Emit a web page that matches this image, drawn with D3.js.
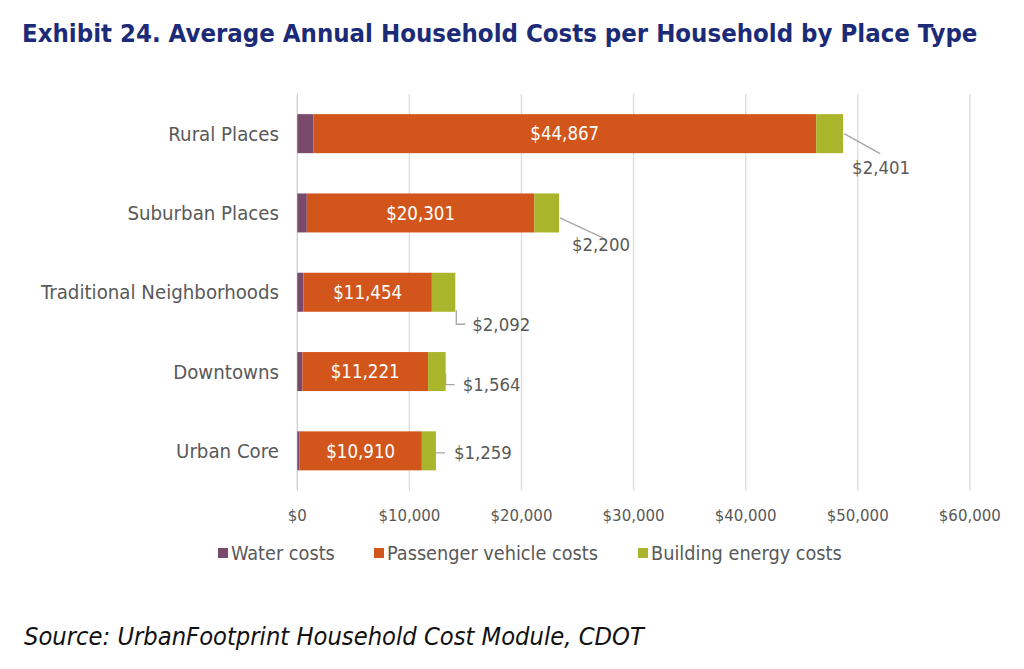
<!DOCTYPE html>
<html><head><meta charset="utf-8">
<script src="https://cdn.jsdelivr.net/npm/d3@7"></script>
<style>body{margin:0;background:#fff}svg{display:block}text{font-family:"DejaVu Sans Condensed","DejaVu Sans",sans-serif}</style>
</head><body>
<svg id="c" width="1024" height="669"></svg>
<script>
const categories = ["Rural Places","Suburban Places","Traditional Neighborhoods","Downtowns","Urban Core"];
const waterCosts = [1430, 850, 550, 450, 200];
const vehicleCosts = [44867, 20301, 11454, 11221, 10910];
const energyCosts = [2401, 2200, 2092, 1564, 1259];
const seriesNames = ["Water costs","Passenger vehicle costs","Building energy costs"];
const xTicks = [0,10000,20000,30000,40000,50000,60000];
const titleText = "Exhibit 24. Average Annual Household Costs per Household by Place Type";
const sourceText = "Source: UrbanFootprint Household Cost Module, CDOT";

// layout / style (not data)
const colors = ["#7a4a6c","#d2561b","#a9b52a"];
const calloutLayout = [
  {pts:[[1,0],[37,20]], lab:[9,34]},
  {pts:[[1,5],[44,25]], lab:[13,31]},
  {pts:[[1,18],[1,32],[10,32]], lab:[17,32]},
  {pts:[[0,2],[0,13],[9,13]], lab:[17,13]},
  {pts:[[0,2],[9,2]], lab:[18,2]}
];

const svg = d3.select("#c");
const fmt = v => "$" + d3.format(",")(v);

function fit(sel, w){
  const n = sel.node();
  let fs = parseFloat(sel.attr("font-size"));
  const l = n.getComputedTextLength();
  if (l > 0) sel.attr("font-size", (fs * w / l).toFixed(2));
  return sel;
}

const x = d3.scaleLinear().domain([0,60000]).range([297.3, 969.8]);
const y = d3.scaleBand().domain(categories).range([94, 490.5]).paddingInner(0.508).paddingOuter(0.254);

// title
fit(svg.append("text").attr("x",22).attr("y",42).attr("font-size",24).attr("font-weight","bold")
  .attr("fill","#1c2b78").text(titleText), 956);

// gridlines
svg.append("g").selectAll("line").data(xTicks).join("line")
  .attr("x1",d=>x(d)).attr("x2",d=>x(d)).attr("y1",94).attr("y2",490.5)
  .attr("stroke",d=>d===0?"#cfcfcf":"#dcdcdc").attr("stroke-width",1.3);

// x tick labels
const xa = svg.append("g").selectAll("text").data(xTicks).join("text")
  .attr("x",d=>x(d)).attr("y",521).attr("text-anchor","middle").attr("font-size",15)
  .attr("fill","#595959").text(d=>fmt(d));
xa.each(function(d){ if(d===10000) fit(d3.select(this), 62); });
const tfs = xa.filter(d=>d===10000).attr("font-size");
xa.attr("font-size", tfs);

// stacks
const rows = categories.map((c,i)=>({cat:c, vals:[waterCosts[i], vehicleCosts[i], energyCosts[i]]}));
const gb = svg.append("g");
rows.forEach((r,i)=>{
  let acc = 0;
  r.vals.forEach((v,k)=>{
    gb.append("rect").attr("x",x(acc)).attr("width",x(acc+v)-x(acc))
      .attr("y",y(r.cat)).attr("height",y.bandwidth()).attr("fill",colors[k]);
    acc += v;
  });
});

// y labels
const yl = svg.append("g").selectAll("text").data(categories).join("text")
  .attr("x",279).attr("y",d=>y(d)+y.bandwidth()/2).attr("dy","0.35em")
  .attr("text-anchor","end").attr("font-size",17).attr("fill","#595959").text(d=>d);
fit(yl.filter(d=>d==="Traditional Neighborhoods"), 238);
yl.attr("font-size", yl.filter(d=>d==="Traditional Neighborhoods").attr("font-size"));

// inside labels
const il = svg.append("g").selectAll("text").data(rows).join("text")
  .attr("x",d=>(x(d.vals[0])+x(d.vals[0]+d.vals[1]))/2)
  .attr("y",d=>y(d.cat)+y.bandwidth()/2).attr("dy","0.36em")
  .attr("text-anchor","middle").attr("font-size",18).attr("fill","#fff").text(d=>fmt(d.vals[1]));
fit(il.filter((d,i)=>i===0), 69);
il.attr("font-size", il.filter((d,i)=>i===0).attr("font-size"));

// callouts
const cl = svg.append("g");
let cfs = null;
rows.forEach((r,i)=>{
  const ex = x(r.vals[0]+r.vals[1]+r.vals[2]);
  const cy = y(r.cat)+y.bandwidth()/2;
  const L = calloutLayout[i];
  cl.append("path").attr("d", d3.line()(L.pts.map(p=>[ex+p[0], cy+p[1]])))
    .attr("fill","none").attr("stroke","#a6a6a6").attr("stroke-width",1.3);
  const t = cl.append("text").attr("x",ex+L.lab[0]).attr("y",cy+L.lab[1]).attr("dy","0.36em")
    .attr("font-size",17).attr("fill","#595959").text(fmt(r.vals[2]));
  if(i===0){ fit(t,58); cfs = t.attr("font-size"); } else t.attr("font-size",cfs);
});

// legend
const legX = [218, 374, 638];
const lg = svg.append("g");
seriesNames.forEach((s,k)=>{
  lg.append("rect").attr("x",legX[k]).attr("y",548).attr("width",10).attr("height",10).attr("fill",colors[k]);
  const t = lg.append("text").attr("x",legX[k]+13).attr("y",553).attr("dy","0.35em")
    .attr("font-size",16).attr("fill","#595959").text(s);
  if(k===1) fit(t, 211);
});
const lfs = lg.selectAll("text").filter((d,i)=>i===1).attr("font-size");
lg.selectAll("text").attr("font-size", lfs);

// source
fit(svg.append("text").attr("x",24).attr("y",645).attr("font-size",20).attr("font-style","italic")
  .attr("fill","#111").text(sourceText), 620);
</script>
</body></html>
